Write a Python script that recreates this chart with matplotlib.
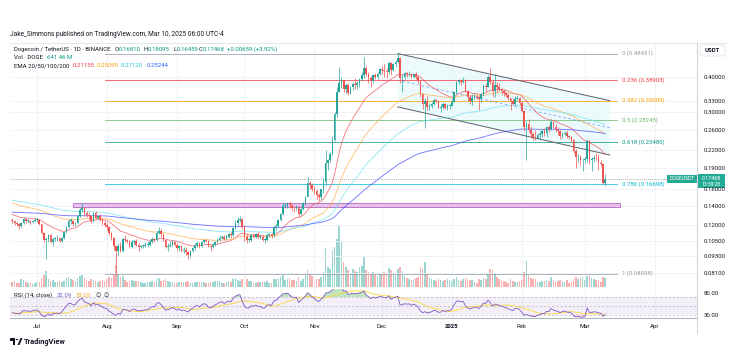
import numpy as np
import pandas as pd
import matplotlib
matplotlib.use("Agg")
import matplotlib.pyplot as plt
from matplotlib.patches import Rectangle, Polygon, Circle, FancyBboxPatch
from matplotlib.lines import Line2D
from matplotlib.ticker import NullLocator, NullFormatter

plt.rcParams['font.family'] = ['Roboto', 'DejaVu Sans']

# ---------------- data (DOGE/USDT daily) ----------------
start_date = "2024-06-20"
first_open = 0.125

close_jun = [0.124, 0.122, 0.121, 0.119, 0.122, 0.126, 0.124, 0.124, 0.123, 0.124, 0.125]
high_jun = [0.127, 0.125, 0.123, 0.122, 0.123, 0.128, 0.127, 0.126, 0.125, 0.125, 0.127]
low_jun = [0.122, 0.120, 0.119, 0.116, 0.117, 0.121, 0.122, 0.122, 0.121, 0.122, 0.123]
vol_jun = [350, 420, 280, 300, 560, 490, 350, 280, 250, 210, 280]

close_jul = [0.125, 0.121, 0.112, 0.106, 0.107, 0.110, 0.104, 0.107, 0.107, 0.108,
             0.105, 0.108, 0.113, 0.118, 0.124, 0.124, 0.121, 0.122, 0.129, 0.135,
             0.138, 0.132, 0.130, 0.129, 0.124, 0.132, 0.127, 0.129, 0.126, 0.122,
             0.120]
high_jul = [0.127, 0.126, 0.121, 0.113, 0.109, 0.111, 0.111, 0.108, 0.109, 0.110,
            0.109, 0.109, 0.114, 0.119, 0.126, 0.127, 0.125, 0.123, 0.130, 0.137,
            0.143, 0.139, 0.134, 0.133, 0.130, 0.133, 0.134, 0.130, 0.131, 0.127,
            0.124]
low_jul = [0.123, 0.120, 0.111, 0.104, 0.091, 0.104, 0.103, 0.101, 0.105, 0.105,
           0.104, 0.104, 0.107, 0.112, 0.117, 0.121, 0.119, 0.119, 0.121, 0.128,
           0.133, 0.129, 0.128, 0.126, 0.122, 0.123, 0.126, 0.126, 0.124, 0.120,
           0.118]
vol_jul = [320, 350, 630, 840, 1120, 560, 420, 490, 350, 350,
           420, 350, 420, 630, 700, 560, 490, 420, 630, 770,
           840, 630, 490, 420, 560, 490, 420, 350, 420, 490,
           420]

close_aug = [0.118, 0.112, 0.108, 0.101, 0.097, 0.101, 0.097, 0.107, 0.106, 0.105,
             0.100, 0.104, 0.105, 0.102, 0.100, 0.101, 0.101, 0.102, 0.102, 0.104,
             0.107, 0.106, 0.112, 0.114, 0.111, 0.106, 0.100, 0.101, 0.102, 0.104,
             0.102]
high_aug = [0.122, 0.119, 0.113, 0.109, 0.102, 0.103, 0.104, 0.108, 0.110, 0.107,
            0.106, 0.106, 0.107, 0.107, 0.103, 0.102, 0.102, 0.104, 0.105, 0.106,
            0.109, 0.108, 0.114, 0.118, 0.116, 0.111, 0.107, 0.103, 0.105, 0.106,
            0.105]
low_aug = [0.115, 0.110, 0.106, 0.098, 0.0806, 0.094, 0.096, 0.096, 0.104, 0.103,
           0.099, 0.099, 0.102, 0.101, 0.097, 0.099, 0.099, 0.100, 0.100, 0.101,
           0.103, 0.104, 0.105, 0.111, 0.109, 0.105, 0.099, 0.097, 0.100, 0.101,
           0.101]
vol_aug = [560, 700, 630, 910, 1540, 840, 700, 770, 490, 350,
           420, 490, 420, 420, 420, 350, 280, 280, 350, 350,
           420, 350, 560, 630, 420, 490, 560, 420, 350, 350,
           280]

close_sep = [0.099, 0.101, 0.097, 0.098, 0.096, 0.094, 0.097, 0.099, 0.102, 0.103,
             0.101, 0.104, 0.106, 0.105, 0.101, 0.100, 0.102, 0.104, 0.106, 0.108,
             0.109, 0.107, 0.109, 0.111, 0.110, 0.117, 0.122, 0.125, 0.126, 0.118]
high_sep = [0.103, 0.102, 0.102, 0.100, 0.100, 0.097, 0.098, 0.100, 0.103, 0.105,
            0.104, 0.105, 0.107, 0.107, 0.106, 0.102, 0.103, 0.105, 0.108, 0.110,
            0.110, 0.110, 0.111, 0.112, 0.113, 0.118, 0.125, 0.128, 0.129, 0.127]
low_sep = [0.098, 0.097, 0.096, 0.095, 0.094, 0.091, 0.092, 0.096, 0.098, 0.100,
           0.099, 0.100, 0.103, 0.104, 0.100, 0.097, 0.099, 0.101, 0.103, 0.105,
           0.107, 0.106, 0.106, 0.108, 0.108, 0.109, 0.116, 0.120, 0.123, 0.116]
vol_sep = [280, 350, 350, 350, 350, 420, 280, 280, 350, 350,
           350, 350, 350, 280, 280, 350, 350, 420, 420, 420,
           280, 280, 350, 420, 350, 560, 630, 490, 420, 560]

close_oct = [0.109, 0.106, 0.106, 0.110, 0.109, 0.111, 0.109, 0.109, 0.106, 0.106,
             0.110, 0.111, 0.110, 0.118, 0.119, 0.125, 0.131, 0.140, 0.140, 0.143,
             0.141, 0.138, 0.137, 0.139, 0.131, 0.136, 0.143, 0.151, 0.169, 0.166,
             0.161]
high_oct = [0.120, 0.111, 0.108, 0.111, 0.111, 0.112, 0.113, 0.110, 0.110, 0.108,
            0.111, 0.112, 0.112, 0.119, 0.121, 0.126, 0.132, 0.143, 0.143, 0.145,
            0.146, 0.142, 0.140, 0.141, 0.140, 0.137, 0.145, 0.152, 0.177, 0.172,
            0.168]
low_oct = [0.105, 0.103, 0.104, 0.105, 0.108, 0.108, 0.107, 0.107, 0.105, 0.103,
           0.105, 0.109, 0.108, 0.109, 0.115, 0.118, 0.124, 0.130, 0.137, 0.138,
           0.137, 0.134, 0.133, 0.135, 0.128, 0.130, 0.135, 0.141, 0.150, 0.160,
           0.158]
vol_oct = [700, 560, 420, 420, 280, 280, 350, 350, 350, 350,
           420, 280, 280, 560, 560, 630, 700, 840, 490, 560,
           630, 490, 490, 420, 700, 420, 560, 840, 1190, 910,
           770]

close_nov = [0.158, 0.153, 0.151, 0.160, 0.170, 0.198, 0.203, 0.213, 0.240, 0.296,
             0.355, 0.380, 0.389, 0.362, 0.375, 0.352, 0.368, 0.378, 0.375, 0.380,
             0.393, 0.408, 0.432, 0.410, 0.398, 0.386, 0.407, 0.401, 0.410, 0.428]
high_nov = [0.164, 0.161, 0.155, 0.161, 0.175, 0.220, 0.205, 0.217, 0.248, 0.300,
            0.369, 0.434, 0.401, 0.391, 0.382, 0.380, 0.372, 0.385, 0.398, 0.388,
            0.395, 0.418, 0.470, 0.437, 0.418, 0.402, 0.410, 0.412, 0.417, 0.432]
low_nov = [0.154, 0.148, 0.146, 0.147, 0.156, 0.166, 0.187, 0.200, 0.211, 0.238,
           0.288, 0.355, 0.365, 0.355, 0.352, 0.345, 0.349, 0.361, 0.362, 0.364,
           0.370, 0.388, 0.398, 0.404, 0.380, 0.368, 0.380, 0.395, 0.395, 0.407]
vol_nov = [630, 560, 560, 700, 1050, 2730, 1400, 1260, 2590, 2800,
           3360, 4340, 3150, 1750, 1400, 1190, 910, 1260, 1120, 1050,
           1400, 1470, 2100, 1190, 1050, 980, 1050, 840, 770, 910]

close_dec = [0.424, 0.421, 0.418, 0.447, 0.425, 0.444, 0.452, 0.468, 0.398, 0.401,
             0.412, 0.409, 0.411, 0.400, 0.410, 0.401, 0.386, 0.348, 0.322, 0.330,
             0.314, 0.317, 0.322, 0.332, 0.328, 0.311, 0.312, 0.322, 0.311, 0.316,
             0.316]
high_dec = [0.438, 0.445, 0.431, 0.455, 0.452, 0.450, 0.458, 0.484, 0.470, 0.410,
            0.416, 0.418, 0.420, 0.414, 0.413, 0.415, 0.404, 0.388, 0.352, 0.337,
            0.342, 0.323, 0.325, 0.338, 0.334, 0.331, 0.320, 0.325, 0.323, 0.320,
            0.321]
low_dec = [0.410, 0.400, 0.396, 0.410, 0.405, 0.421, 0.435, 0.450, 0.382, 0.355,
           0.395, 0.401, 0.402, 0.396, 0.397, 0.395, 0.382, 0.340, 0.309, 0.263,
           0.305, 0.306, 0.311, 0.318, 0.324, 0.310, 0.300, 0.309, 0.308, 0.305,
           0.309]
vol_dec = [910, 1050, 980, 1330, 1190, 980, 840, 1260, 1400, 1120,
           770, 630, 560, 490, 560, 630, 700, 1400, 1260, 1750,
           980, 630, 560, 490, 420, 560, 490, 420, 490, 560,
           490]

close_jan = [0.326, 0.355, 0.384, 0.389, 0.383, 0.386, 0.357, 0.341, 0.330, 0.337,
             0.344, 0.340, 0.333, 0.348, 0.372, 0.369, 0.400, 0.385, 0.356, 0.375,
             0.370, 0.364, 0.357, 0.352, 0.346, 0.336, 0.330, 0.322, 0.334, 0.336,
             0.324]
high_jan = [0.333, 0.358, 0.387, 0.395, 0.392, 0.400, 0.392, 0.360, 0.346, 0.349,
            0.350, 0.345, 0.343, 0.350, 0.378, 0.381, 0.408, 0.432, 0.390, 0.411,
            0.385, 0.380, 0.365, 0.363, 0.353, 0.350, 0.338, 0.336, 0.342, 0.345,
            0.340]
low_jan = [0.315, 0.325, 0.350, 0.378, 0.375, 0.380, 0.354, 0.330, 0.320, 0.318,
           0.334, 0.334, 0.305, 0.326, 0.343, 0.357, 0.368, 0.378, 0.340, 0.340,
           0.355, 0.356, 0.345, 0.342, 0.340, 0.332, 0.305, 0.318, 0.318, 0.330,
           0.318]
vol_jan = [420, 560, 700, 490, 420, 560, 630, 560, 490, 490,
           350, 280, 560, 490, 630, 560, 910, 1260, 1190, 980,
           700, 560, 490, 420, 350, 280, 560, 420, 350, 350,
           420]

close_feb = [0.304, 0.266, 0.272, 0.259, 0.251, 0.246, 0.244, 0.250, 0.252, 0.258,
             0.254, 0.266, 0.262, 0.278, 0.267, 0.260, 0.257, 0.247, 0.252, 0.254,
             0.247, 0.246, 0.240, 0.218, 0.208, 0.209, 0.203, 0.203]
high_feb = [0.328, 0.306, 0.280, 0.283, 0.268, 0.256, 0.260, 0.253, 0.258, 0.262,
            0.265, 0.268, 0.270, 0.285, 0.280, 0.272, 0.266, 0.259, 0.256, 0.257,
            0.260, 0.250, 0.248, 0.241, 0.222, 0.214, 0.212, 0.207]
low_feb = [0.300, 0.258, 0.204, 0.255, 0.243, 0.240, 0.240, 0.242, 0.240, 0.246,
           0.248, 0.246, 0.255, 0.260, 0.263, 0.256, 0.250, 0.242, 0.243, 0.248,
           0.243, 0.242, 0.236, 0.216, 0.190, 0.200, 0.195, 0.186]
vol_feb = [490, 1050, 1820, 840, 630, 560, 560, 350, 350, 420,
           420, 490, 420, 700, 490, 350, 420, 490, 420, 350,
           490, 280, 350, 560, 700, 560, 630, 700]

close_mar = [0.205, 0.238, 0.204, 0.205, 0.207, 0.206, 0.199, 0.197, 0.1681, 0.17468]
high_mar = [0.208, 0.240, 0.240, 0.209, 0.212, 0.216, 0.213, 0.204, 0.199, 0.18095]
low_mar = [0.198, 0.200, 0.197, 0.186, 0.200, 0.203, 0.188, 0.194, 0.167, 0.16459]
vol_mar = [490, 770, 840, 630, 560, 490, 490, 350, 700, 641.46]

# EMA starting values at the left edge
ema_periods = [20, 50, 100, 200]
ema_seeds = [0.131, 0.144, 0.147, 0.133]
ema_colors = ['#f7525f', '#ffb04d', '#6fe3f2', '#4a4cff']
ema_legend = ['0.21155', '0.25095', '0.27120', '0.25244']
ema_legend_colors = ['#f23645', '#ff9800', '#26c6da', '#2962ff']

# RSI seed (average gain / loss before the first candle)
rsi_seed_gain, rsi_seed_loss = 0.0018, 0.0033

# Fibonacci retracement
fib_ratios = ["0", "0.236", "0.382", "0.5", "0.618", "0.786", "1"]
fib_prices = [0.48431, 0.38903, 0.33009, 0.28245, 0.23480, 0.16698, 0.08058]
fib_colors = ['#9598a1', '#f23645', '#ff9800', '#66bb6a', '#089981', '#00bcd4', '#9598a1']
fib_start, fib_end = 41.2, 268.2

# descending channel (x in day index, price)
chan_x = [171, 265]
chan_upper = [0.484, 0.330]
chan_lower = [0.3134, 0.2118]

# support zone
zone_x = [27, 269.5]
zone_price = [0.1388, 0.1433]

# price-axis ticks
price_ticks = [0.40, 0.33, 0.30, 0.26, 0.22, 0.19, 0.16, 0.14, 0.12, 0.105, 0.093, 0.081]
month_labels = ['Jul', 'Aug', 'Sep', 'Oct', 'Nov', 'Dec', '2025', 'Feb', 'Mar', 'Apr']

# ---------------- assemble ----------------
closes = np.array(close_jun + close_jul + close_aug + close_sep + close_oct + close_nov
                  + close_dec + close_jan + close_feb + close_mar)
highs = np.array(high_jun + high_jul + high_aug + high_sep + high_oct + high_nov
                 + high_dec + high_jan + high_feb + high_mar)
lows = np.array(low_jun + low_jul + low_aug + low_sep + low_oct + low_nov
                + low_dec + low_jan + low_feb + low_mar)
volumes = np.array(vol_jun + vol_jul + vol_aug + vol_sep + vol_oct + vol_nov
                   + vol_dec + vol_jan + vol_feb + vol_mar, dtype=float)
n = len(closes)
dates = pd.date_range(start_date, periods=n + 40, freq="D")
x = np.arange(n)
opens = np.concatenate([[first_open], closes[:-1]])
up = closes >= opens

UP, DN = '#26a69a', '#ef5350'
TXT = '#131722'

W, H = 737, 355
fig = plt.figure(figsize=(W / 100, H / 100), dpi=100)
fig.patch.set_facecolor('white')


def fx(px):
    return px / W


def fy(py):
    return 1 - py / H


ax = fig.add_axes([fx(10), fy(289), fx(697) - fx(10), fy(43) - fy(289)])
vax = ax.twinx()
rax = fig.add_axes([fx(10), fy(318), fx(697) - fx(10), fy(289) - fy(318)], sharex=ax)
ax.set_zorder(3)
ax.patch.set_visible(False)
vax.set_zorder(2)
rax.patch.set_visible(False)

for a in (ax, vax, rax):
    for s in a.spines.values():
        s.set_visible(False)

ax.set_xlim(-1.0, 303.7)
ax.set_yscale('log')
ax.set_ylim(0.07107, 0.5277)

# month ticks
month_pos = [i for i, d in enumerate(dates) if d.day == 1][:len(month_labels)]

# grid
for mp in month_pos:
    ax.axvline(mp, color='#eef1f6', lw=0.6, zorder=0)
    rax.axvline(mp, color='#eef1f6', lw=0.6, zorder=0)
for pt in price_ticks:
    ax.axhline(pt, color='#eef1f6', lw=0.6, zorder=0)

# support zone
ax.add_patch(Rectangle((zone_x[0], zone_price[0]), zone_x[1] - zone_x[0],
                       zone_price[1] - zone_price[0], facecolor='#e1bee7',
                       edgecolor='#ba68c8', lw=0.7, alpha=0.9, zorder=1))

# fib lines + labels
for r, p, c in zip(fib_ratios, fib_prices, fib_colors):
    ax.plot([fib_start, fib_end], [p, p], color=c, lw=0.7, alpha=0.75, zorder=1.2)
    ax.text(fib_end + 2.2, p, f"{r} ({p:.5f})", color=c, fontsize=4.3,
            va='center', ha='left', clip_on=False, zorder=5)

# channel
poly = Polygon([(chan_x[0], chan_upper[0]), (chan_x[1], chan_upper[1]),
                (chan_x[1], chan_lower[1]), (chan_x[0], chan_lower[0])],
               closed=True, facecolor='#e0f7fa', edgecolor='none', alpha=0.6, zorder=0.8)
ax.add_patch(poly)
ax.plot(chan_x, chan_upper, color='#5d606b', lw=0.7, zorder=1.5)
ax.plot(chan_x, chan_lower, color='#5d606b', lw=0.7, zorder=1.5)
mid = [np.sqrt(u * l) for u, l in zip(chan_upper, chan_lower)]
ax.plot([chan_x[0] + 2, chan_x[1]], [mid[0] * (mid[1] / mid[0]) ** (2 / (chan_x[1] - chan_x[0])), mid[1]],
        color='#2962ff', lw=0.6, ls=(0, (3, 3)), alpha=0.6, zorder=1.5)

# EMAs
for per, seed, col in zip(ema_periods, ema_seeds, ema_colors):
    a = 2.0 / (per + 1)
    e = seed
    vals = []
    for c in closes:
        e = a * c + (1 - a) * e
        vals.append(e)
    ax.plot(x, vals, color=col, lw=0.6, alpha=0.8, zorder=2)

# candles
colors = np.where(up, UP, DN)
body_lo = np.minimum(opens, closes)
body_hi = np.maximum(np.maximum(opens, closes), body_lo * 1.004)
wick_lo = np.minimum(lows, body_lo)
wick_hi = np.maximum(highs, body_hi)
ax.vlines(x, wick_lo, wick_hi, colors=colors, lw=0.5, zorder=3)
ax.bar(x, body_hi - body_lo, bottom=body_lo, width=0.72, color=colors, lw=0, zorder=3.1)

# last price line
ax.axhline(closes[-1], color='#9598a1', lw=0.5, ls=(0, (1.5, 1.5)), zorder=1.1)

# volume
vax.bar(x, volumes, width=0.7, color=np.where(up, UP, DN), alpha=0.45, lw=0)
vax.set_ylim(-140, 17080)
vax.set_yticks([])
vax.tick_params(right=False, labelright=False)

# price axis
ax.yaxis.tick_right()
ax.yaxis.set_minor_locator(NullLocator())
ax.yaxis.set_minor_formatter(NullFormatter())
ax.set_yticks(price_ticks)
ax.set_yticklabels([f"{v:.5f}" for v in price_ticks])
ax.tick_params(axis='y', length=0, pad=5, labelsize=4.3, labelcolor=TXT)
ax.tick_params(axis='x', bottom=False, labelbottom=False)

# RSI
ag, al = rsi_seed_gain, rsi_seed_loss
prev = first_open
rsi = []
for c in closes:
    d = c - prev
    ag = (ag * 13 + max(d, 0)) / 14
    al = (al * 13 + max(-d, 0)) / 14
    rsi.append(100 - 100 / (1 + ag / al))
    prev = c
rsi = np.array(rsi)
rsi_ma = pd.Series(rsi).rolling(14, min_periods=1).mean().values

rax.set_ylim(23, 88)
rax.axhspan(30, 70, color='#7e57c2', alpha=0.09, lw=0, zorder=0)
for lvl in (70, 50, 30):
    rax.axhline(lvl, color='#9598a1', lw=0.5, ls=(0, (3, 3)), alpha=0.7, zorder=0.5)
rax.fill_between(x, 70, rsi, where=rsi > 70, interpolate=True, color='#4caf50', alpha=0.35, lw=0)
rax.fill_between(x, 30, rsi, where=rsi < 30, interpolate=True, color='#f23645', alpha=0.2, lw=0)
rax.plot(x, rsi_ma, color='#fdd835', lw=0.6, zorder=2)
rax.plot(x, rsi, color='#7e57c2', lw=0.6, zorder=3)
rax.yaxis.tick_right()
rax.set_yticks([80, 30])
rax.set_yticklabels(['80.00', '30.00'])
rax.tick_params(axis='y', length=0, pad=5, labelsize=4.3, labelcolor=TXT)
rax.set_xticks(month_pos)
rax.set_xticklabels(month_labels)
rax.tick_params(axis='x', length=0, pad=4, labelsize=4.3, labelcolor=TXT)
for lab in rax.get_xticklabels():
    if lab.get_text() == '2025':
        lab.set_fontweight('bold')

# ---------------- frame lines ----------------
fig.add_artist(Line2D([fx(10), fx(727)], [fy(43), fy(43)], color='#e0e3eb', lw=0.6,
                      transform=fig.transFigure))
fig.add_artist(Line2D([fx(10), fx(697)], [fy(318), fy(318)], color='#b2b5be', lw=0.8,
                      transform=fig.transFigure))
fig.add_artist(Line2D([fx(697), fx(697)], [fy(43), fy(333)], color='#d1d4dc', lw=0.8,
                      transform=fig.transFigure))

# ---------------- texts ----------------
fig.text(fx(10), fy(35), "Jake_Simmons published on TradingView.com, Mar 10, 2025 06:00 UTC-4",
         fontsize=4.7, color=TXT, va='center', ha='left')

y1, y2, y3 = 49.3, 57.3, 65.7
GREEN = '#089981'
fig.text(fx(14), fy(y1), "Dogecoin / TetherUS · 1D · BINANCE", fontsize=4.3, color=TXT, va='center')
for lab, val, px in [("O", "0.16810", 115), ("H", "0.18095", 144), ("L", "0.16459", 173), ("C", "0.17468", 199)]:
    fig.text(fx(px), fy(y1), lab, fontsize=4.3, color=TXT, va='center')
    fig.text(fx(px + 3.2), fy(y1), val, fontsize=4.3, color=GREEN, va='center')
fig.text(fx(227), fy(y1), "+0.00659 (+3.92%)", fontsize=4.3, color=GREEN, va='center')
fig.text(fx(14), fy(y2), "Vol · DOGE", fontsize=4.3, color=TXT, va='center')
fig.text(fx(47), fy(y2), "641.46 M", fontsize=4.3, color=GREEN, va='center')
fig.text(fx(14), fy(y3), "EMA 20/50/100/200", fontsize=4.3, color=TXT, va='center')
for val, col, px in zip(ema_legend, ema_legend_colors, [73, 97, 121, 147]):
    fig.text(fx(px), fy(y3), val, fontsize=4.3, color=col, va='center')

yr = 295.5
fig.text(fx(14), fy(yr), "RSI (14, close)", fontsize=4.3, color=TXT, va='center')
fig.text(fx(57), fy(yr), "32.09", fontsize=4.3, color='#7e57c2', va='center')
fig.text(fx(76), fy(yr), "33.05", fontsize=4.3, color='#f9a825', va='center')
fig.text(fx(95), fy(yr), "∅", fontsize=4.3, color=TXT, va='center')
fig.text(fx(103), fy(yr), "∅", fontsize=4.3, color=TXT, va='center')

# USDT box
fig.add_artist(FancyBboxPatch((fx(700), fy(56)), fx(25), fy(45) - fy(56),
                              boxstyle="round,pad=0,rounding_size=0.004",
                              facecolor='white', edgecolor='#e0e3eb', lw=0.6,
                              transform=fig.transFigure))
fig.text(fx(712.5), fy(50.5), "USDT", fontsize=4.3, color=TXT, fontweight='bold',
         ha='center', va='center')

# last price labels
fig.add_artist(Rectangle((fx(667), fy(182.5)), fx(30), fy(175) - fy(182.5),
                         facecolor='#22ab94', edgecolor='none', transform=fig.transFigure))
fig.text(fx(682), fy(178.8), "DOGEUSDT", fontsize=3.6, color='white', ha='center', va='center')
fig.add_artist(Rectangle((fx(697), fy(188.5)), fx(28), fy(174) - fy(188.5),
                         facecolor='#22ab94', edgecolor='none', transform=fig.transFigure))
fig.text(fx(711), fy(178.3), "0.17468", fontsize=3.9, color='white', ha='center', va='center')
fig.text(fx(711), fy(185), "13:59:28", fontsize=3.6, color='white', ha='center', va='center')

# TradingView logo
fig.add_artist(Rectangle((fx(10), fy(340.5)), fx(5), fy(338) - fy(340.5),
                         facecolor=TXT, edgecolor='none', transform=fig.transFigure))
fig.add_artist(Rectangle((fx(12.5), fy(345)), fx(2.5), fy(338) - fy(345),
                         facecolor=TXT, edgecolor='none', transform=fig.transFigure))
fig.add_artist(Circle((fx(17), fy(339.5)), 1.3 / W, facecolor=TXT, edgecolor='none',
                      transform=fig.transFigure))
fig.add_artist(Polygon([(fx(17.5), fy(345)), (fx(20.5), fy(338)), (fx(22.5), fy(338)),
                        (fx(19.5), fy(345))], closed=True, facecolor=TXT, edgecolor='none',
                       transform=fig.transFigure))
fig.text(fx(24), fy(341.5), "TradingView", fontsize=5.3, color=TXT, fontweight='bold',
         va='center', ha='left')

fig.savefig("out.png", dpi=100, facecolor='white')
